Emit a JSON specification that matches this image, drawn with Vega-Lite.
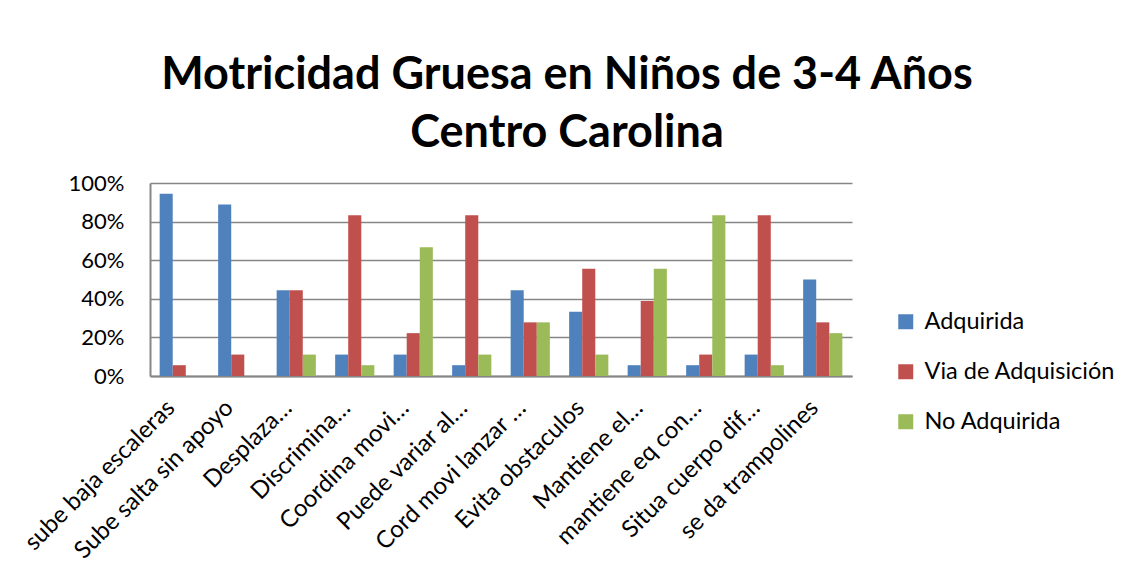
{
  "$schema": "https://vega.github.io/schema/vega-lite/v6.json",
  "width": 702,
  "height": 193,
  "autosize": {"type": "none"},
  "padding": {"left": 150, "top": 183, "right": 277, "bottom": 202},
  "background": "white",
  "title": {
    "text": ["Motricidad Gruesa en Niños de 3-4 Años", "Centro Carolina"],
    "font": "Lato",
    "fontSize": 45,
    "fontWeight": "bold",
    "color": "#000000",
    "lineHeight": 58,
    "anchor": "middle",
    "frame": "group",
    "dx": 66,
    "offset": 16
  },
  "data": {
    "values": [
      {"item": "sube baja escaleras", "serie": "Adquirida", "valor": 0.944},
      {"item": "sube baja escaleras", "serie": "Via de Adquisición", "valor": 0.056},
      {"item": "sube baja escaleras", "serie": "No Adquirida", "valor": 0.0},
      {"item": "Sube salta sin apoyo", "serie": "Adquirida", "valor": 0.889},
      {"item": "Sube salta sin apoyo", "serie": "Via de Adquisición", "valor": 0.111},
      {"item": "Sube salta sin apoyo", "serie": "No Adquirida", "valor": 0.0},
      {"item": "Desplaza…", "serie": "Adquirida", "valor": 0.444},
      {"item": "Desplaza…", "serie": "Via de Adquisición", "valor": 0.444},
      {"item": "Desplaza…", "serie": "No Adquirida", "valor": 0.111},
      {"item": "Discrimina…", "serie": "Adquirida", "valor": 0.111},
      {"item": "Discrimina…", "serie": "Via de Adquisición", "valor": 0.833},
      {"item": "Discrimina…", "serie": "No Adquirida", "valor": 0.056},
      {"item": "Coordina movi…", "serie": "Adquirida", "valor": 0.111},
      {"item": "Coordina movi…", "serie": "Via de Adquisición", "valor": 0.222},
      {"item": "Coordina movi…", "serie": "No Adquirida", "valor": 0.667},
      {"item": "Puede variar al…", "serie": "Adquirida", "valor": 0.056},
      {"item": "Puede variar al…", "serie": "Via de Adquisición", "valor": 0.833},
      {"item": "Puede variar al…", "serie": "No Adquirida", "valor": 0.111},
      {"item": "Cord movi lanzar …", "serie": "Adquirida", "valor": 0.444},
      {"item": "Cord movi lanzar …", "serie": "Via de Adquisición", "valor": 0.278},
      {"item": "Cord movi lanzar …", "serie": "No Adquirida", "valor": 0.278},
      {"item": "Evita obstaculos", "serie": "Adquirida", "valor": 0.333},
      {"item": "Evita obstaculos", "serie": "Via de Adquisición", "valor": 0.556},
      {"item": "Evita obstaculos", "serie": "No Adquirida", "valor": 0.111},
      {"item": "Mantiene el…", "serie": "Adquirida", "valor": 0.056},
      {"item": "Mantiene el…", "serie": "Via de Adquisición", "valor": 0.389},
      {"item": "Mantiene el…", "serie": "No Adquirida", "valor": 0.556},
      {"item": "mantiene eq con…", "serie": "Adquirida", "valor": 0.056},
      {"item": "mantiene eq con…", "serie": "Via de Adquisición", "valor": 0.111},
      {"item": "mantiene eq con…", "serie": "No Adquirida", "valor": 0.833},
      {"item": "Situa cuerpo dif…", "serie": "Adquirida", "valor": 0.111},
      {"item": "Situa cuerpo dif…", "serie": "Via de Adquisición", "valor": 0.833},
      {"item": "Situa cuerpo dif…", "serie": "No Adquirida", "valor": 0.056},
      {"item": "se da trampolines", "serie": "Adquirida", "valor": 0.5},
      {"item": "se da trampolines", "serie": "Via de Adquisición", "valor": 0.278},
      {"item": "se da trampolines", "serie": "No Adquirida", "valor": 0.222}
    ]
  },
  "mark": {"type": "bar"},
  "encoding": {
    "x": {
      "field": "item",
      "type": "nominal",
      "sort": null,
      "scale": {"paddingInner": 0.33, "paddingOuter": 0.165},
      "axis": {
        "title": null,
        "labelAngle": -45,
        "labelAlign": "right",
        "labelBaseline": "middle",
        "labelFont": "Lato",
        "labelFontSize": 24,
        "labelColor": "#000000",
        "labelPadding": 28,
        "labelOffset": -8,
        "ticks": false,
        "domainColor": "#868686",
        "domainWidth": 2,
        "labelLimit": 0
      }
    },
    "xOffset": {"field": "serie", "type": "nominal", "sort": ["Adquirida", "Via de Adquisición", "No Adquirida"], "scale": {"paddingInner": 0, "paddingOuter": 0}},
    "y": {
      "field": "valor",
      "type": "quantitative",
      "scale": {"domain": [0, 1], "nice": false},
      "axis": {
        "title": null,
        "format": ".0%",
        "values": [0, 0.2, 0.4, 0.6, 0.8, 1],
        "labelFont": "Lato",
        "labelFontSize": 22,
        "labelColor": "#000000",
        "labelPadding": 26,
        "ticks": false,
        "grid": true,
        "gridColor": "#868686",
        "gridWidth": 1.5,
        "domainColor": "#868686",
        "domainWidth": 2
      }
    },
    "color": {
      "field": "serie",
      "type": "nominal",
      "sort": ["Adquirida", "Via de Adquisición", "No Adquirida"],
      "scale": {"domain": ["Adquirida", "Via de Adquisición", "No Adquirida"], "range": ["#4F81BD", "#C0504D", "#9BBB59"]},
      "legend": {
        "title": null,
        "orient": "none",
        "legendX": 744,
        "legendY": 127,
        "symbolType": "square",
        "symbolSize": 225,
        "symbolStrokeWidth": 0,
        "symbolOpacity": 1,
        "labelFont": "Lato",
        "labelFontSize": 23.5,
        "labelColor": "#000000",
        "rowPadding": 25,
        "labelOffset": 7,
        "labelLimit": 0
      }
    }
  },
  "config": {
    "view": {"stroke": null}
  }
}
